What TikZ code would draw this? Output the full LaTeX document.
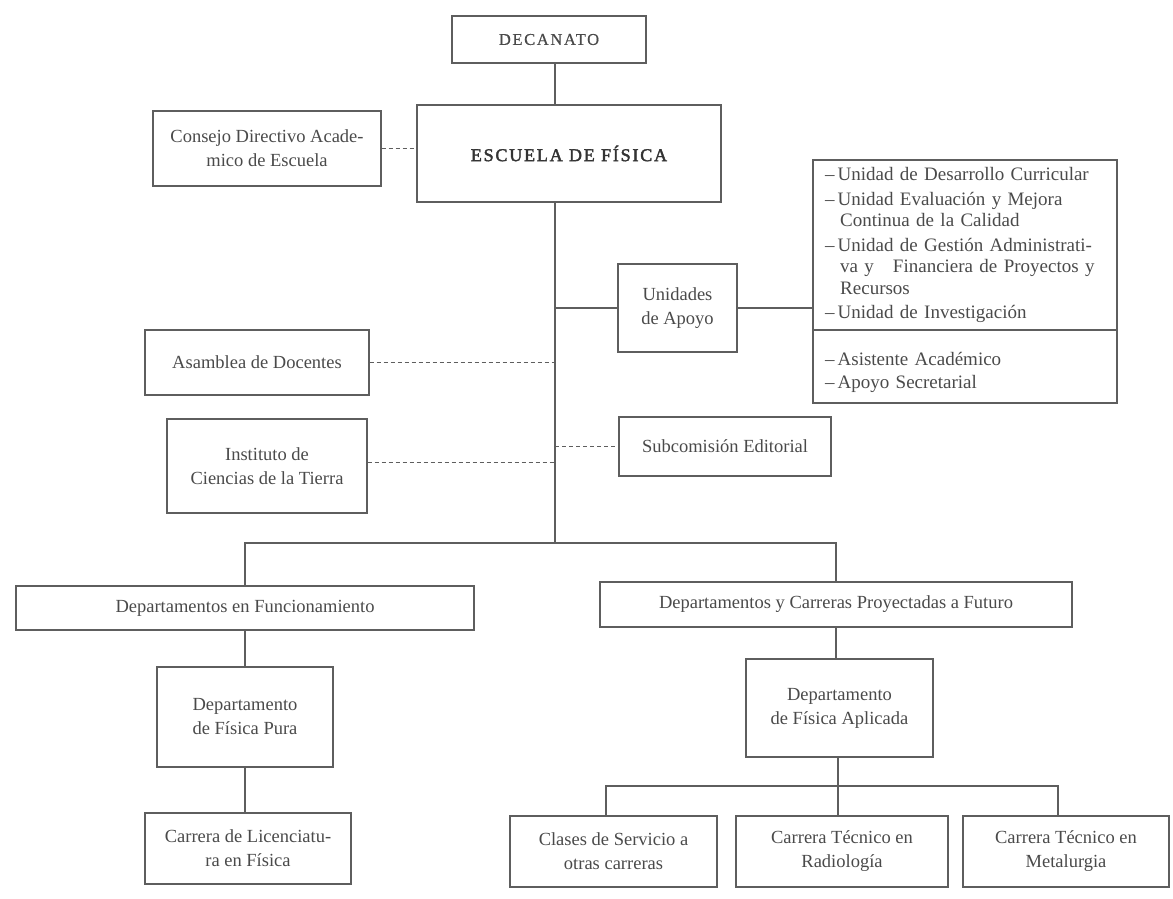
\documentclass[tikz,border=0pt]{standalone}
\usepackage{fontspec}
\setmainfont{Liberation Serif}
\newfontfamily\capsfont{Liberation Serif}[LetterSpace=10,FakeBold=0.6]
\newfontfamily\capsbold{Liberation Serif}[LetterSpace=10,FakeBold=2.2]
\usetikzlibrary{calc}
\definecolor{ink}{HTML}{4A4A4A}
\definecolor{dark}{HTML}{333333}
\definecolor{rule}{HTML}{5E5E5E}
\begin{document}
\begin{tikzpicture}[x=1pt,y=-1pt,
  font=\fontsize{18.5}{24}\selectfont,
  box/.style={draw=rule,line width=1.1pt,text=ink,align=center,inner sep=0pt},
  listbox/.style={box,minimum width=304pt,text width=280pt,align=left,
    font=\fontsize{19}{21.5}\selectfont},
  link/.style={draw=rule,line width=1.1pt},
  dlink/.style={draw=rule,line width=1pt,dash pattern=on 4pt off 3pt}]
\useasboundingbox (0,0) rectangle (1173,899);

% top of the chart
\node[box,minimum width=194pt,minimum height=47pt] (deca) at (549,39.5)
  {\fontsize{16.5}{20}\selectfont\capsfont DECANATO};
\node[box,minimum width=304pt,minimum height=97pt,text=dark] (esc) at (569,153.5)
  {\fontsize{18}{22}\selectfont\capsbold ESCUELA DE FÍSICA};
\node[box,minimum width=228pt,minimum height=75pt] (cons) at (267,148.5)
  {Consejo Directivo Acade-\\mico de Escuela};

% support units and their list
\node[box,minimum width=119pt,minimum height=88pt] (unid) at (677.5,308) {Unidades\\de Apoyo};
\node[listbox,minimum height=170pt] (ulist) at (965,245)
  {--\,Unidad de Desarrollo Curricular\\[3pt]
   --\,Unidad Evaluación y Mejora\\
   \hspace*{0.8em}Continua de la Calidad\\[3pt]
   --\,Unidad de Gestión Administrati-\\
   \hspace*{0.8em}va y\quad Financiera de Proyectos y\\
   \hspace*{0.8em}Recursos\\[3pt]
   --\,Unidad de Investigación};
\node[listbox,minimum height=73pt] (alist) at (965,366.5)
  {\rule{0pt}{26pt}--\,Asistente Académico\\[1.5pt]--\,Apoyo Secretarial};

% consultative bodies
\node[box,minimum width=224pt,minimum height=65pt] (asam) at (257,362.5) {Asamblea de Docentes};
\node[box,minimum width=200pt,minimum height=94pt] (inst) at (267,466) {Instituto de\\Ciencias de la Tierra};
\node[box,minimum width=212pt,minimum height=59pt] (subc) at (725,446.5) {Subcomisión Editorial};

% departments
\node[box,minimum width=458pt,minimum height=44pt] (func) at (245,608) {Departamentos en Funcionamiento};
\node[box,minimum width=472pt,minimum height=45pt] (fut) at (836,604.5) {Departamentos y Carreras Proyectadas a Futuro};
\node[box,minimum width=176pt,minimum height=100pt] (pura) at (245,717) {Departamento\\de Física Pura};
\node[box,minimum width=206pt,minimum height=71pt] (lic) at (248,848.5) {Carrera de Licenciatu-\\ra en Física};
\node[box,minimum width=187pt,minimum height=98pt] (apl) at (839.5,708) {Departamento\\de Física Aplicada};
\node[box,minimum width=207pt,minimum height=71pt] (clas) at (613.5,851.5) {Clases de Servicio a\\otras carreras};
\node[box,minimum width=212pt,minimum height=71pt] (radi) at (842,851.5) {Carrera Técnico en\\Radiología};
\node[box,minimum width=206pt,minimum height=71pt] (meta) at (1066,851.5) {Carrera Técnico en\\Metalurgia};

% trunk and branch points
\coordinate (trunk) at (555,543);
\coordinate (low) at (838,786);

\draw[link] (deca.south -| trunk) -- (esc.north -| trunk);
\draw[link] (esc.south -| trunk) -- (trunk);
\draw[dlink] (cons.east) -- (cons.east -| esc.west);
\draw[link] (trunk |- unid.west) -- (unid.west);
\draw[link] (unid.east) -- (unid.east -| ulist.west);
\draw[dlink] (asam.east) -- (asam.east -| trunk);
\draw[dlink] ([yshift=4pt]inst.east) -- ([yshift=4pt]inst.east -| trunk);
\draw[dlink] (trunk |- subc.west) -- (subc.west);

\draw[link] (func.north) -- (func.north |- trunk) -- (fut.north |- trunk) -- (fut.north);
\draw[link] (func.south) -- (pura.north);
\draw[link] (pura.south) -- (pura.south |- lic.north);
\draw[link] (fut.south) -- (fut.south |- apl.north);
\draw[link] (apl.south -| low) -- (low);
\draw[link] ([xshift=-7.5pt]clas.north) -- ([xshift=-7.5pt]clas.north |- low)
  -- ([xshift=-8pt]meta.north |- low) -- ([xshift=-8pt]meta.north);
\draw[link] (low) -- (low |- radi.north);
\end{tikzpicture}
\end{document}
